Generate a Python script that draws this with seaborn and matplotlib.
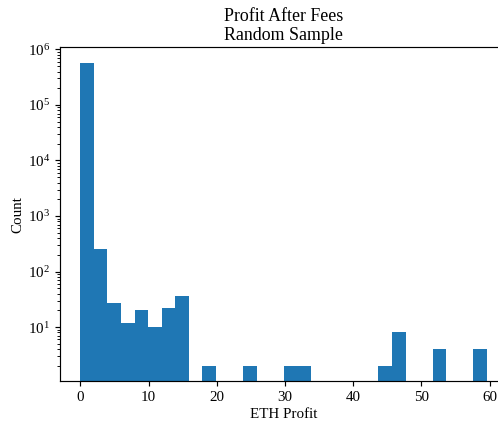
import numpy as np
import pandas as pd
import matplotlib
matplotlib.use("Agg")
import matplotlib.pyplot as plt
import seaborn as sns

# Histogram of ETH profit after fees (30 equal-width bins from 0 to the max profit)
max_profit = 59.6
n_bins = 30
bin_counts = [580000, 260, 27, 12, 20, 10, 22, 37, 0, 2,
              0, 0, 2, 0, 0, 2, 2, 0, 0, 0,
              0, 0, 2, 8, 0, 0, 4, 0, 0, 4]
x_ticks = [0, 10, 20, 30, 40, 50, 60]

edges = np.linspace(0, max_profit, n_bins + 1)
centers = (edges[:-1] + edges[1:]) / 2
df = pd.DataFrame({"profit": centers, "count": bin_counts})

sns.set_theme(style="ticks")
plt.rcParams.update({
    "font.family": ["Liberation Serif", "DejaVu Serif"],
    "font.size": 10.8,
    "axes.titlesize": 12.9,
    "axes.labelsize": 10.8,
    "xtick.labelsize": 10.8,
    "ytick.labelsize": 10.8,
    "axes.edgecolor": "black",
    "axes.linewidth": 0.85,
    "xtick.color": "black",
    "ytick.color": "black",
    "axes.labelcolor": "black",
    "text.color": "black",
    "xtick.major.size": 3.8,
    "ytick.major.size": 3.8,
    "ytick.minor.size": 2.2,
    "xtick.major.width": 0.85,
    "ytick.major.width": 0.85,
    "ytick.minor.width": 0.65,
})

fig = plt.figure(figsize=(4.98, 4.21), dpi=100)
ax = fig.add_axes([0.1205, 0.095, 0.898, 0.7926])

sns.histplot(data=df, x="profit", weights="count", bins=n_bins,
             binrange=(0, max_profit),
             color="#1f77b4", alpha=1, linewidth=0, ax=ax)
ax.set_yscale("log")

span = max_profit
ax.set_xlim(-0.05 * span, 1.05 * span)
ax.set_ylim(1.07, 1.09e6)
ax.set_xticks(x_ticks)

ax.set_title("Profit After Fees\nRandom Sample", pad=5)
ax.set_xlabel("ETH Profit", labelpad=3)
ax.set_ylabel("Count", labelpad=2)

fig.savefig("out.png", dpi=100)
